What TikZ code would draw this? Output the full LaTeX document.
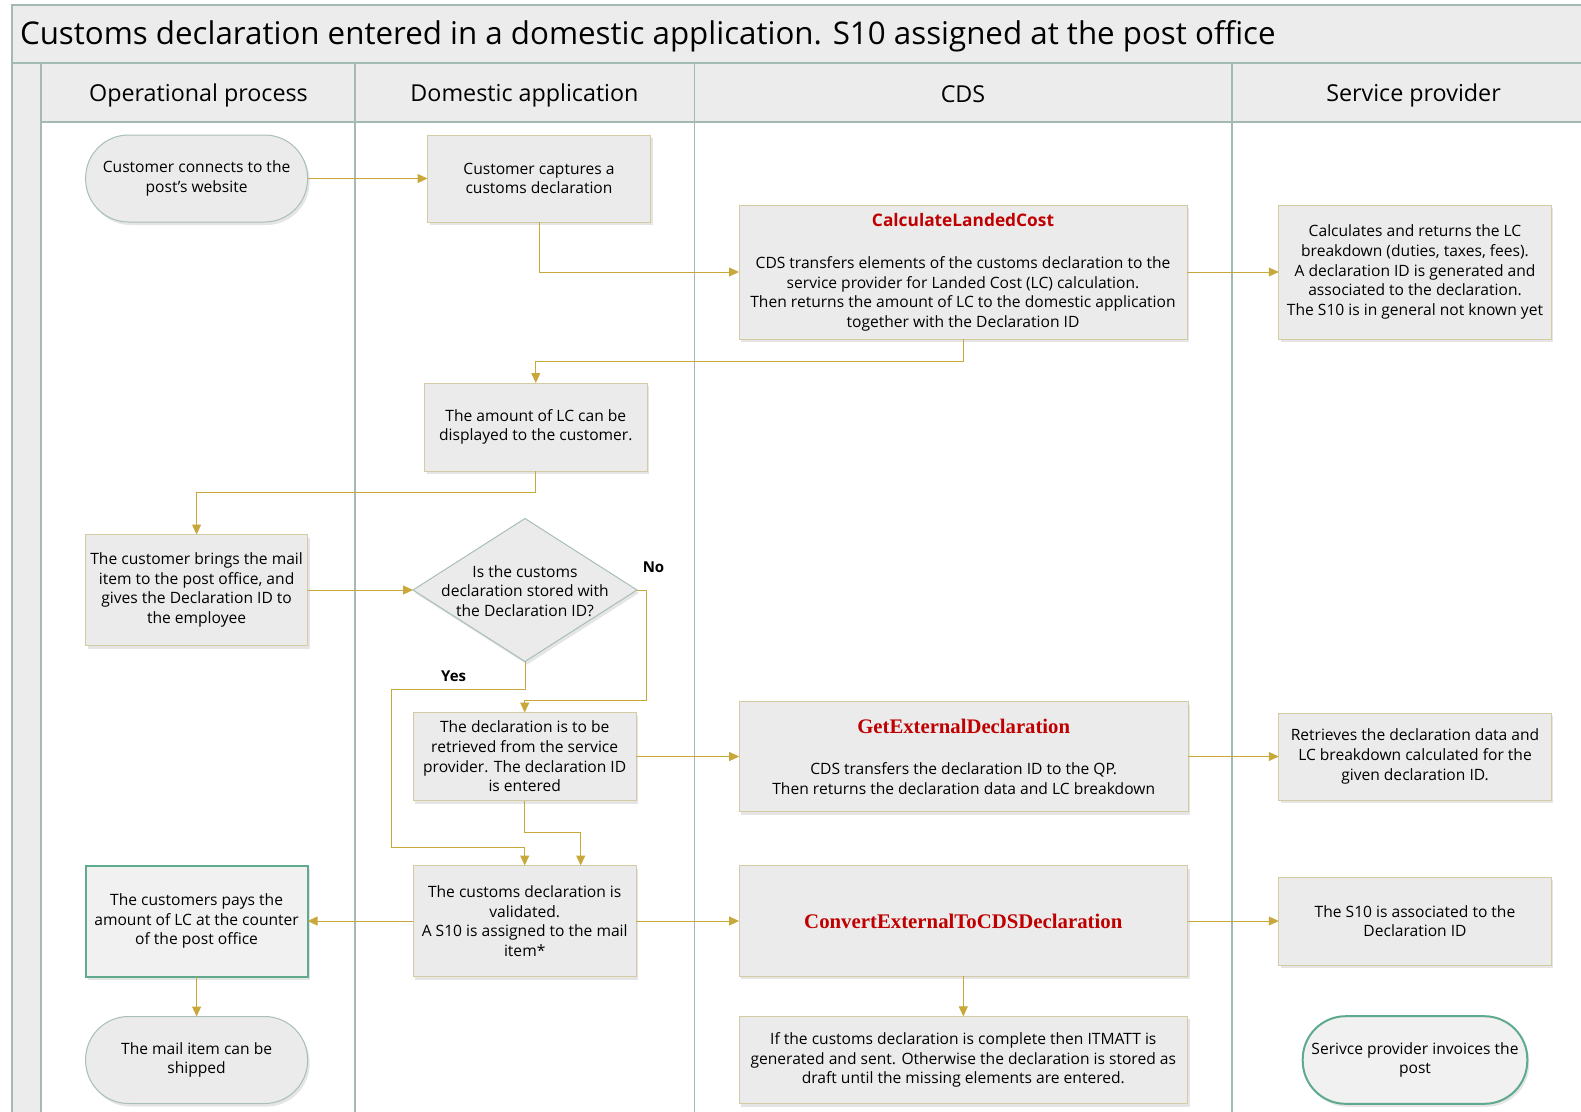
\documentclass[tikz,border=0pt]{standalone}
\usepackage{fontspec}
\setmainfont{Open Sans}
\newfontfamily\timesbold{Liberation Serif}
\usetikzlibrary{shapes.geometric,arrows.meta,shadows}
\definecolor{lanec}{HTML}{A3B9B3}
\definecolor{headf}{HTML}{ECECEC}
\definecolor{boxf}{HTML}{EBEBEB}
\definecolor{boxd}{HTML}{D5CBA3}
\definecolor{pilld}{HTML}{A9BEB7}
\definecolor{greend}{HTML}{5FA98C}
\definecolor{arrc}{HTML}{C9A83B}
\definecolor{redt}{HTML}{C00000}
\begin{document}
\begin{tikzpicture}[x=1pt,y=-1pt,
  every node/.style={inner sep=0pt,outer sep=0pt},
  txt/.style={font=\fontsize{15.6}{19.6}\selectfont,align=center,text=black},
  shadowed/.style={drop shadow={shadow xshift=2pt,shadow yshift=-3pt,opacity=0.2}},
  box/.style={txt,draw=boxd,fill=boxf,line width=1pt,shadowed},
  pill/.style={txt,draw=pilld,fill=boxf,line width=1pt,rounded corners=43pt,shadowed},
  greenbox/.style={txt,draw=greend,fill=boxf!70!white,line width=2pt,shadowed},
  greenpill/.style={txt,draw=greend,fill=boxf!70!white,line width=2pt,rounded corners=43pt,shadowed},
  decision/.style={diamond,draw=pilld,fill=boxf,line width=1pt,shadowed},
  flow/.style={draw=arrc,line width=1pt,-{Triangle[length=10pt,width=9pt]}},
  lane/.style={draw=lanec,line width=1.5pt},
  headtxt/.style={font=\fontsize{23.3}{26}\selectfont}
]
\useasboundingbox (0,0) rectangle (1581,1111);
\clip (0,0) rectangle (1581,1111);
\fill[white] (0,0) rectangle (1581,1111);
% frame
\path[fill=headf,lane] (12,5) rectangle (1620,63);
\path[fill=headf,lane] (12,63) rectangle (41,1130);
\path[fill=headf,lane] (41,63) rectangle (1620,122);
\draw[lane] (355,63) -- (355,1130);
\draw[lane] (694.7,63) -- (694.7,1130);
\draw[lane] (1232,63) -- (1232,1130);
\node[anchor=west,font=\fontsize{31.3}{34}\selectfont] (title) at (20,36)
  {Customs declaration entered in a domestic application. S10 assigned at the post office};
\node[headtxt] (h1) at (198.5,95) {Operational process};
\node[headtxt] (h2) at (524.5,95) {Domestic application};
\node[headtxt] (h3) at (963,94) {CDS};
\node[headtxt] (h4) at (1413.5,95) {Service provider};
% nodes
\node[pill,minimum width=222pt,minimum height=87pt] (n1) at (196.6,178.5)
  {Customer connects to the\\post’s website};
\node[box,minimum width=223pt,minimum height=87pt] (n2) at (539,178.5)
  {Customer captures a\\customs declaration};
\node[box,minimum width=448pt,minimum height=134pt] (n3) at (963,272)
  {{\fontsize{17.3}{20}\selectfont\bfseries\color{redt}CalculateLandedCost}\\[23pt]
   CDS transfers elements of the customs declaration to the\\
   service provider for Landed Cost (LC) calculation.\\
   Then returns the amount of LC to the domestic application\\
   together with the Declaration ID};
\node[box,minimum width=272.5pt,minimum height=134pt] (n4) at (1415,272)
  {Calculates and returns the LC\\breakdown (duties, taxes, fees).\\A declaration ID is generated and\\associated to the declaration.\\The S10 is in general not known yet};
\node[box,minimum width=222.5pt,minimum height=88pt] (n5) at (535.8,427)
  {The amount of LC can be\\displayed to the customer.};
\node[box,minimum width=222pt,minimum height=111pt] (n6) at (196.6,590)
  {The customer brings the mail\\item to the post office, and\\gives the Declaration ID to\\the employee};
\node[decision,minimum width=224pt,minimum height=143pt] (n7) at (525,590) {};
\node[txt] (n7t) at ([yshift=-1pt]n7.center) {Is the customs\\declaration stored with\\the Declaration ID?};
\node[box,minimum width=222.6pt,minimum height=88pt] (n8) at (524.7,756.5)
  {The declaration is to be\\retrieved from the service\\provider. The declaration ID\\is entered};
\node[box,minimum width=449pt,minimum height=110pt] (n9) at (963.7,756.5)
  {{\fontsize{20.7}{22}\timesbold\bfseries\color{redt}GetExternalDeclaration}\\[22pt]
   CDS transfers the declaration ID to the QP.\\
   Then returns the declaration data and LC breakdown};
\node[box,minimum width=272.5pt,minimum height=87pt] (n10) at (1415,756.5)
  {Retrieves the declaration data and\\LC breakdown calculated for the\\given declaration ID.};
\node[box,minimum width=222.6pt,minimum height=111pt] (n11) at (524.7,921)
  {The customs declaration is\\validated.\\A S10 is assigned to the mail\\item*};
\node[box,minimum width=448.5pt,minimum height=110.7pt] (n12) at (963.3,921)
  {{\fontsize{20.8}{22}\timesbold\bfseries\color{redt}ConvertExternalToCDSDeclaration}};
\node[box,minimum width=272.5pt,minimum height=88pt] (n13) at (1415,921)
  {The S10 is associated to the\\Declaration ID};
\node[greenbox,minimum width=222pt,minimum height=111pt] (n14) at (196.6,921)
  {The customers pays the\\amount of LC at the counter\\of the post office};
\node[pill,minimum width=222pt,minimum height=87pt] (n15) at (196.6,1060)
  {The mail item can be\\shipped};
\node[box,minimum width=448.5pt,minimum height=87.3pt] (n16) at (963.3,1060)
  {If the customs declaration is complete then ITMATT is\\generated and sent. Otherwise the declaration is stored as\\draft until the missing elements are entered.};
\node[greenpill,minimum width=224.6pt,minimum height=87.6pt] (n17) at (1415,1060)
  {Serivce provider invoices the\\post};
% labels
\node[font=\fontsize{15}{18}\selectfont\bfseries] (lno) at (653.5,567) {No};
\node[font=\fontsize{15}{18}\selectfont\bfseries] (lyes) at (453.7,676) {Yes};
% connectors
\draw[flow] (n1.east) -- (n2.west);
\draw[flow] (n2.south) |- (n3.west);
\draw[flow] (n3.east) -- (n4.west);
\draw[flow] (n3.south) -- ++(0,22) -| (n5.north);
\draw[flow] (n5.south) -- ++(0,21) -| (n6.north);
\draw[flow] (n6.east) -- (n7.west);
\draw[flow] (n7.east) -- ++(9.5,0) |- ([yshift=12pt]n8.north) -- (n8.north);
\draw[flow] (n7.south) |- (391.5,689) |- ([yshift=18pt]n11.north) -- (n11.north);
\draw[flow] (n8.south) -- ++(0,32) -| ([xshift=56pt]n11.north);
\draw[flow] (n8.east) -- (n9.west);
\draw[flow] (n9.east) -- (n10.west);
\draw[flow] (n11.west) -- (n14.east);
\draw[flow] (n11.east) -- (n12.west);
\draw[flow] (n12.east) -- (n13.west);
\draw[flow] (n12.south) -- (n16.north);
\draw[flow] (n14.south) -- (n15.north);
\end{tikzpicture}
\end{document}
